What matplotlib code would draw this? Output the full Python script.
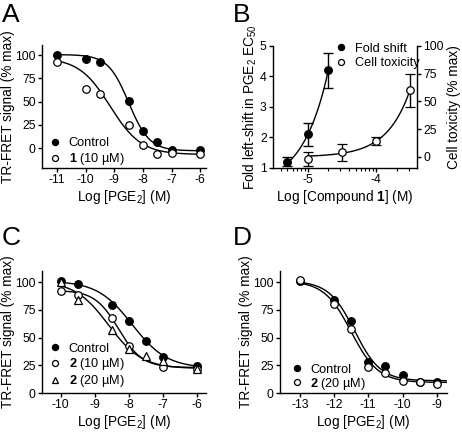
import numpy as np
import matplotlib
matplotlib.use('Agg')
import matplotlib.pyplot as plt

plt.rcParams['font.family'] = ['Liberation Sans', 'DejaVu Sans']
plt.rcParams['mathtext.fontset'] = 'custom'
plt.rcParams['mathtext.rm'] = 'Liberation Sans'
plt.rcParams['mathtext.it'] = 'Liberation Sans:italic'
plt.rcParams['mathtext.bf'] = 'Liberation Sans:bold'
plt.rcParams['axes.unicode_minus'] = False

# ---- panel A data
a_x_ctrl = [-11, -10, -9.5, -8.5, -8, -7.5, -7, -6]
a_y_ctrl = [100, 96, 92, 51, 18, 7, -2, -2]
a_x_cmp1 = [-11, -10, -9.5, -8.5, -8, -7.5, -7, -6]
a_y_cmp1 = [93, 64, 58, 25, 3, -6, -5, -6]
a_fit_ctrl = (100.5, -3, -8.5, 1.2)     # top, bottom, logEC50, slope
a_fit_cmp1 = (97, -7, -9.15, 0.8)

# ---- panel B data
b_x_fold = [-5.3, -5.0, -4.7]
b_y_fold = [1.21, 2.11, 4.2]
b_e_fold = [0.14, 0.38, 0.57]
b_x_tox = [-5.0, -4.5, -4.0, -3.5]
b_y_tox = [-2, 4, 14.5, 60]
b_e_tox = [6.5, 7.5, 3.5, 15]
b_fit_fold = (0.365, 0.785, 2.64)       # a + b*exp(k*(x+5.3))
b_fit_tox = (0.0, 0.76, 2.92)           # a + b*exp(k*(x+5))

# ---- panel C data
c_x_ctrl = [-10, -9.5, -8.5, -8, -7.5, -7, -6]
c_y_ctrl = [101, 98.5, 79, 65, 46.5, 32.5, 24]
c_x_10 = [-10, -9.5, -8.5, -8, -7, -6]
c_y_10 = [92, 88, 68, 42, 23.5, 22]
c_x_20 = [-10, -9.5, -8.5, -8, -7.5, -7, -6]
c_y_20 = [100, 84, 57, 40, 33, 28.5, 21.7]
c_fit_ctrl = (101, 22.5, -7.9, 0.85)
c_fit_10 = (92.5, 23, -8.3, 1.25)
c_fit_20 = (101, 22, -8.6, 0.88)

# ---- panel D data
d_x_ctrl = [-13, -12, -11.5, -11, -10.5, -10, -9.5, -9]
d_y_ctrl = [101, 84, 65, 28, 24, 16, 10, 10]
d_x_20 = [-13, -12, -11.5, -11, -10.5, -10, -9.5, -9]
d_y_20 = [102, 80, 58, 23, 18, 11, 9.5, 8]
d_fit_ctrl = (101, 11, -11.4, 1.15)
d_fit_20 = (101, 9.5, -11.5, 1.1)


def hill(x, p):
    top, bottom, ec, h = p
    return bottom + (top - bottom) / (1 + 10 ** ((x - ec) * h))


def expo(x, p, x0):
    a, b, k = p
    return a + b * np.exp(k * (x - x0))


W, H = 462, 432
fig = plt.figure(figsize=(W / 100, H / 100), dpi=100)


def box(l, t, r, b):
    return fig.add_axes([l / W, 1 - b / H, (r - l) / W, (b - t) / H])


def style(ax):
    for s in ['top', 'right']:
        ax.spines[s].set_visible(False)
    for s in ax.spines.values():
        s.set_linewidth(1.0)
    ax.tick_params(direction='out', length=3, width=1.0, labelsize=8.7, pad=1.5)
    ax.set_facecolor('none')


def filled(ax, x, y):
    ax.plot(x, y, 'o', ms=5.4, mfc='black', mec='black', mew=1, zorder=4, clip_on=False)


def hollow(ax, x, y, m='o', ms=5.4):
    ax.plot(x, y, m, ms=ms, mfc='white', mec='black', mew=0.9, zorder=5, clip_on=False)


def legend(ax, y0, x0=-0.02, sp=0.22):
    ax.legend(loc='lower left', bbox_to_anchor=(x0, y0), frameon=False, fontsize=9.2,
              handlelength=1.0, handletextpad=0.55, labelspacing=sp, borderpad=0.3,
              markerscale=0.8)


lfs = 9.8
ypad = 0.5

# ---------- A
ax = box(42, 45, 206, 168)
style(ax)
xx = np.linspace(-11, -6, 200)
ax.plot(xx, hill(xx, a_fit_ctrl), 'k-', lw=1)
ax.plot(xx, hill(xx, a_fit_cmp1), 'k-', lw=1)
filled(ax, a_x_ctrl, a_y_ctrl)
hollow(ax, a_x_cmp1, a_y_cmp1)
ax.set_xlim(-11.53, -5.8)
ax.set_ylim(-21.5, 110.8)
ax.set_xticks([-11, -10, -9, -8, -7, -6])
ax.set_yticks([0, 25, 50, 75, 100])
ax.set_xlabel('Log [PGE$_2$] (M)', fontsize=lfs, labelpad=1)
ax.set_ylabel('TR-FRET signal (% max)', fontsize=lfs, labelpad=ypad)
ax.plot([], [], 'o', ms=5.4, mfc='black', mec='black', label='Control')
ax.plot([], [], 'o', ms=5.4, mfc='white', mec='black', mew=0.9, label=r'$\mathbf{1}$ (10 µM)')
legend(ax, -0.075, sp=0.12)
fig.text(2 / W, 1 - 3 / H, 'A', fontsize=19, va='top', ha='left')

# ---------- B
ax = box(273, 46, 417, 168)
style(ax)
xf = np.linspace(-5.34, -4.7, 100)
ax.plot(xf, expo(xf, b_fit_fold, -5.3), 'k-', lw=1)
ax.errorbar(b_x_fold, b_y_fold, yerr=b_e_fold, fmt='o', ms=5.4, mfc='black', mec='black',
            ecolor='black', elinewidth=1, capsize=3.5, capthick=1, zorder=4)
ax.set_xlim(-5.51, -3.40)
ax.set_ylim(1, 5)
ax.set_xticks([-5, -4])
minor = [np.log10(k * 10.0 ** n) for n in (-6, -5, -4) for k in range(2, 10)]
minor = [m for m in minor if -5.51 <= m <= -3.40]
ax.set_xticks(minor, minor=True)
ax.tick_params(which='minor', length=2, width=0.8)
ax.set_yticks([1, 2, 3, 4, 5])
ax.set_xlabel(r'Log [Compound $\mathbf{1}$] (M)', fontsize=lfs, labelpad=1)
ax.set_ylabel('Fold left-shift in PGE$_2$ EC$_{50}$', fontsize=lfs, labelpad=ypad)

ax2 = ax.twinx()
for s in ['top', 'left', 'bottom']:
    ax2.spines[s].set_visible(False)
ax2.spines['right'].set_linewidth(1.0)
ax2.tick_params(direction='out', length=3, width=1.0, labelsize=8.7, pad=1.5)
xt = np.linspace(-5.0, -3.5, 100)
ax2.plot(xt, expo(xt, b_fit_tox, -5.0), 'k-', lw=1)
ax2.errorbar(b_x_tox, b_y_tox, yerr=b_e_tox, fmt='o', ms=5.4, mfc='white', mec='black',
             mew=0.9, ecolor='black', elinewidth=1, capsize=3.5, capthick=1, zorder=4)
ax2.set_ylim(-10, 100)
ax2.set_yticks([0, 25, 50, 75, 100])
ax2.set_ylabel('Cell toxicity (% max)', fontsize=lfs, labelpad=2)
ax.plot([], [], 'o', ms=5.4, mfc='black', mec='black', label='Fold shift')
ax.plot([], [], 'o', ms=5.4, mfc='white', mec='black', mew=0.9, label='Cell toxicity')
ax.legend(loc='upper left', bbox_to_anchor=(0.36, 1.11), frameon=False, fontsize=9.2,
          handlelength=1.0, handletextpad=0.55, labelspacing=0.2, borderpad=0.3,
          markerscale=0.8)
fig.text(233 / W, 1 - 3 / H, 'B', fontsize=19, va='top', ha='left')

# ---------- C
ax = box(42, 271, 206, 393)
style(ax)
xx = np.linspace(-10, -6, 200)
ax.plot(xx, hill(xx, c_fit_ctrl), 'k-', lw=1)
ax.plot(xx, hill(xx, c_fit_10), 'k-', lw=1)
ax.plot(xx, hill(xx, c_fit_20), 'k-', lw=1)
filled(ax, c_x_ctrl, c_y_ctrl)
hollow(ax, c_x_10, c_y_10)
hollow(ax, c_x_20, c_y_20, m='^', ms=6)
ax.set_xlim(-10.55, -5.73)
ax.set_ylim(0, 110)
ax.set_xticks([-10, -9, -8, -7, -6])
ax.set_yticks([0, 25, 50, 75, 100])
ax.set_xlabel('Log [PGE$_2$] (M)', fontsize=lfs, labelpad=1)
ax.set_ylabel('TR-FRET signal (% max)', fontsize=lfs, labelpad=ypad)
ax.plot([], [], 'o', ms=5.4, mfc='black', mec='black', label='Control')
ax.plot([], [], 'o', ms=5.4, mfc='white', mec='black', mew=0.9, label=r'$\mathbf{2}$ (10 µM)')
ax.plot([], [], '^', ms=6, mfc='white', mec='black', mew=0.9, label=r'$\mathbf{2}$ (20 µM)')
legend(ax, -0.055, sp=0.1)
fig.text(2 / W, 1 - 226 / H, 'C', fontsize=19, va='top', ha='left')

# ---------- D
ax = box(280, 271, 447, 393)
style(ax)
xx = np.linspace(-13, -8.7, 200)
ax.plot(xx, hill(xx, d_fit_ctrl), 'k-', lw=1)
ax.plot(xx, hill(xx, d_fit_20), 'k-', lw=1)
filled(ax, d_x_ctrl, d_y_ctrl)
hollow(ax, d_x_20, d_y_20)
ax.set_xlim(-13.58, -8.7)
ax.set_ylim(0, 110)
ax.set_xticks([-13, -12, -11, -10, -9])
ax.set_yticks([0, 25, 50, 75, 100])
ax.set_xlabel('Log [PGE$_2$] (M)', fontsize=lfs, labelpad=1)
ax.set_ylabel('TR-FRET signal (% max)', fontsize=lfs, labelpad=ypad)
ax.plot([], [], 'o', ms=5.4, mfc='black', mec='black', label='Control')
ax.plot([], [], 'o', ms=5.4, mfc='white', mec='black', mew=0.9, label=r'$\mathbf{2}$ (20 µM)')
legend(ax, -0.075, x0=0.0, sp=0.02)
fig.text(233 / W, 1 - 226 / H, 'D', fontsize=19, va='top', ha='left')

fig.savefig('out.png', dpi=100)
